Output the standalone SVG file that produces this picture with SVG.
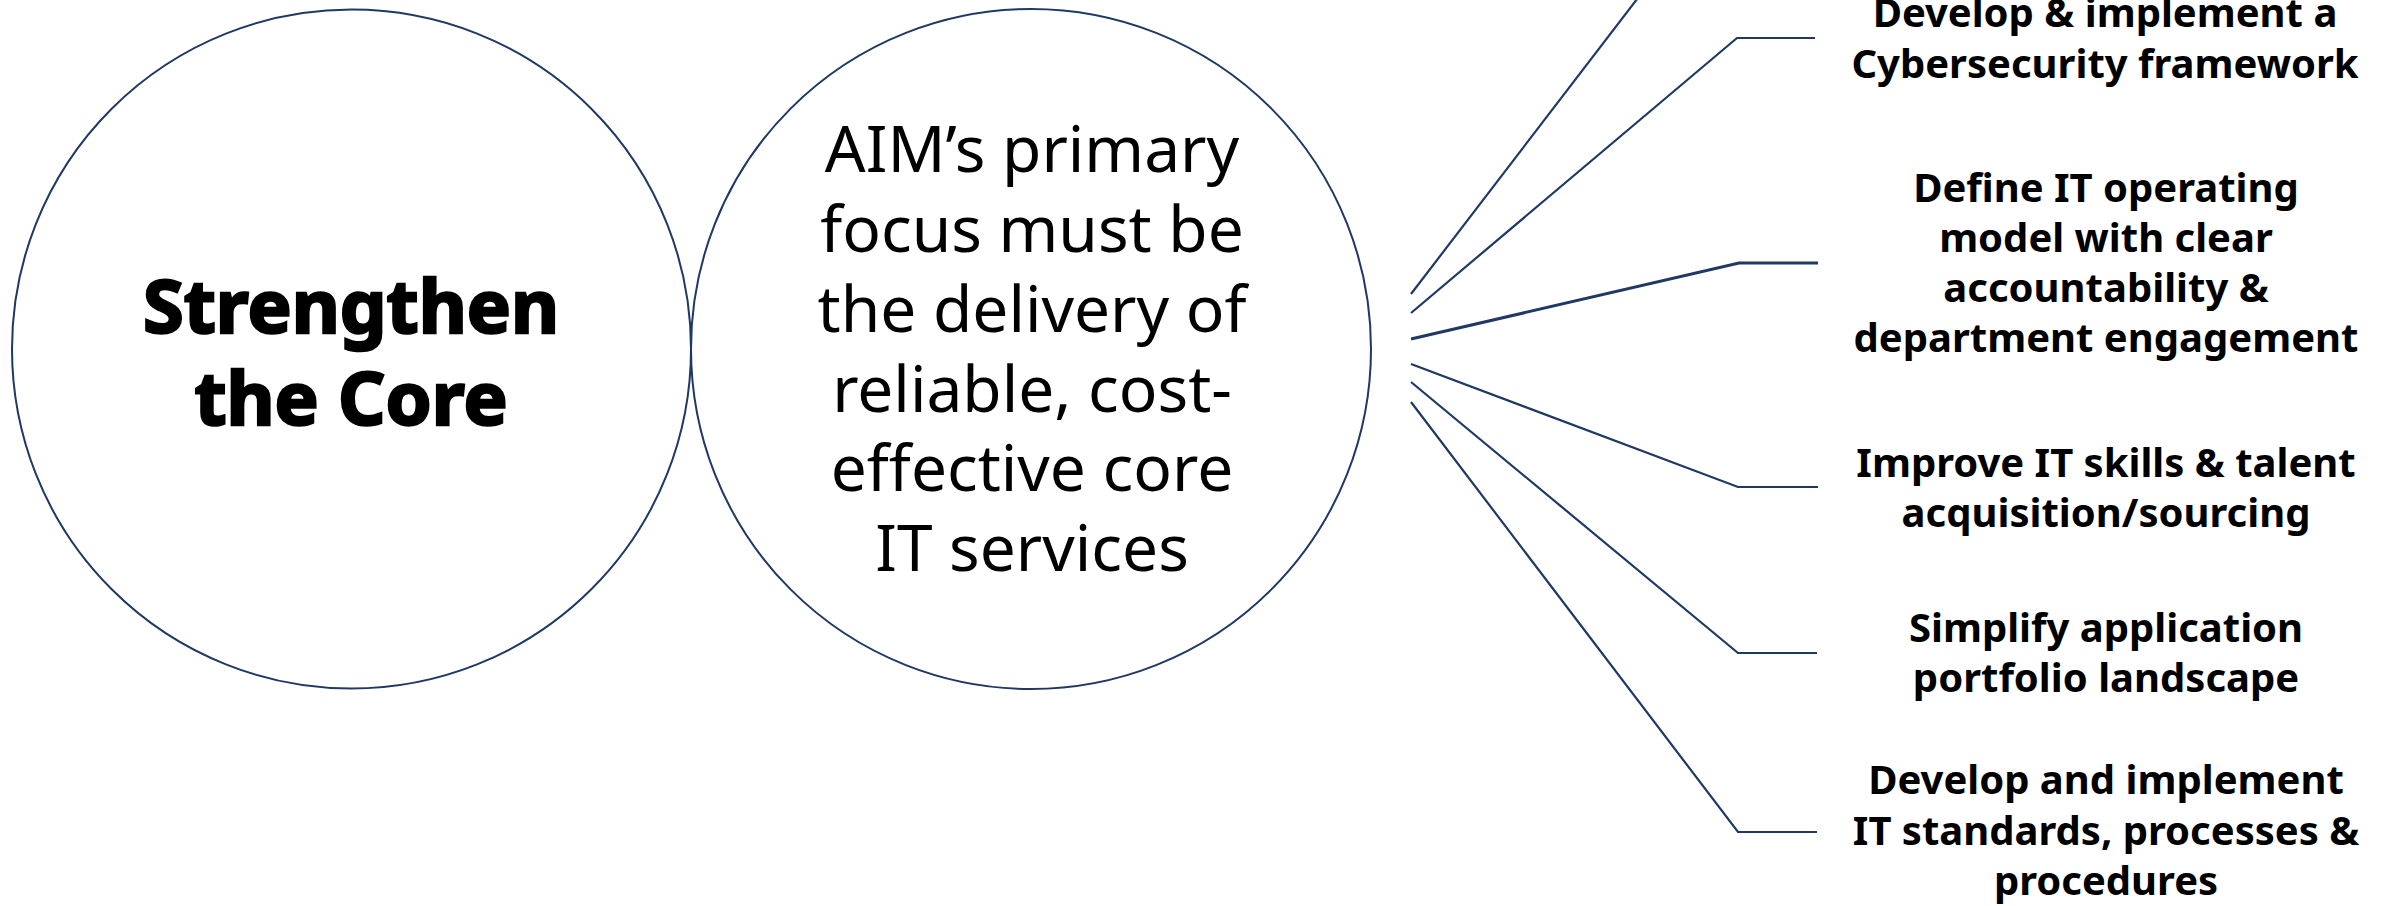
<svg xmlns="http://www.w3.org/2000/svg" width="2381" height="906" viewBox="0 0 2381 906">
<style>
.circ{fill:#ffffff;stroke:#1F3864;stroke-width:2}
.con{fill:none;stroke:#1F3864;stroke-width:2.2;stroke-linejoin:miter}
.title{font-family:"Noto Sans","Liberation Sans",sans-serif;font-weight:bold;font-size:74px;fill:#000;stroke:#000;stroke-width:2.5;text-anchor:middle}
.body{font-family:"Noto Sans","Liberation Sans",sans-serif;font-size:64px;fill:#000;text-anchor:middle}
.lab{font-family:"Noto Sans","Liberation Sans",sans-serif;font-weight:bold;font-size:40px;fill:#000;text-anchor:middle}
</style>
<rect width="2381" height="906" fill="#ffffff"/>
<g id="node-core">
<circle class="circ" cx="351.5" cy="349" r="339.5"/>
<text class="title" x="351" y="333">Strengthen</text>
<text class="title" x="351" y="425">the Core</text>
</g>
<g id="node-focus">
<circle class="circ" cx="1031" cy="349" r="340"/>
<text class="body" x="1032" y="172">AIM’s primary</text>
<text class="body" x="1032" y="252">focus must be</text>
<text class="body" x="1032" y="332">the delivery of</text>
<text class="body" x="1032" y="412">reliable, cost-</text>
<text class="body" x="1032" y="491">effective core</text>
<text class="body" x="1032" y="571">IT services</text>
</g>
<g id="connectors">
<polyline class="con" points="1411,294 1644,-10"/>
<polyline class="con" points="1411,313 1737,38 1815,38"/>
<polyline class="con" points="1411,339 1739,263 1818,263" style="stroke-width:3"/>
<polyline class="con" points="1411,364 1738,487 1818,487"/>
<polyline class="con" points="1411,382 1738,653 1817,653"/>
<polyline class="con" points="1411,402 1738,832 1817,832"/>
</g>
<g id="node-cyber">
<text class="lab" x="2105" y="27">Develop &amp; implement a</text>
<text class="lab" x="2105" y="78">Cybersecurity framework</text>
</g>
<g id="node-operating">
<text class="lab" x="2106" y="202">Define IT operating</text>
<text class="lab" x="2106" y="252">model with clear</text>
<text class="lab" x="2106" y="302">accountability &amp;</text>
<text class="lab" x="2106" y="352">department engagement</text>
</g>
<g id="node-skills">
<text class="lab" x="2106" y="477">Improve IT skills &amp; talent</text>
<text class="lab" x="2106" y="527">acquisition/sourcing</text>
</g>
<g id="node-apps">
<text class="lab" x="2106" y="642">Simplify application</text>
<text class="lab" x="2106" y="692">portfolio landscape</text>
</g>
<g id="node-standards">
<text class="lab" x="2106" y="794">Develop and implement</text>
<text class="lab" x="2106" y="845">IT standards, processes &amp;</text>
<text class="lab" x="2106" y="895">procedures</text>
</g>
</svg>
